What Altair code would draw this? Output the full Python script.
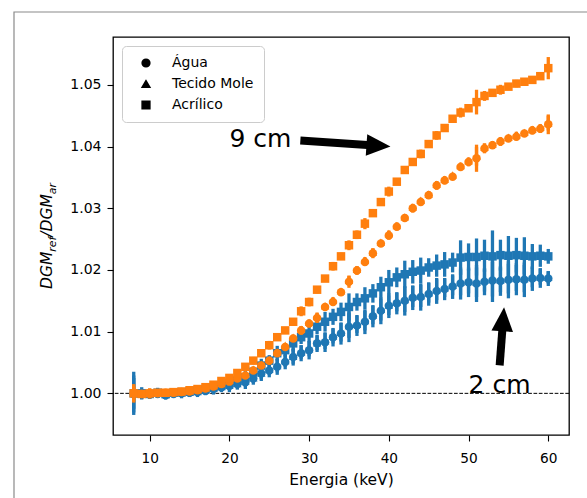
import altair as alt
import pandas as pd

# ---------------- data ----------------
energia = [8, 9, 10, 11, 12, 13, 14, 15, 16, 17, 18, 19, 20, 21, 22, 23, 24, 25, 26, 27,
           28, 29, 30, 31, 32, 33, 34, 35, 36, 37, 38, 39, 40, 41, 42, 43, 44, 45, 46, 47,
           48, 49, 50, 51, 52, 53, 54, 55, 56, 57, 58, 59, 60]

materiais = ["Água", "Tecido Mole", "Acrílico"]
profundidades = ["2 cm", "9 cm"]

# 9 cm
acr_9 = [1.0000, 0.9999, 1.0000, 1.0001, 1.0001, 1.0002, 1.0003, 1.0005, 1.0007, 1.0010,
         1.0014, 1.0020, 1.0025, 1.0033, 1.0043, 1.0053, 1.0065, 1.0078, 1.0091, 1.0102,
         1.0116, 1.0133, 1.0148, 1.0168, 1.0186, 1.0206, 1.0222, 1.0240, 1.0257, 1.0275,
         1.0292, 1.0310, 1.0327, 1.0343, 1.0362, 1.0375, 1.0388, 1.0404, 1.0418, 1.0430,
         1.0445, 1.0455, 1.0462, 1.0472, 1.0482, 1.0487, 1.0492, 1.0497, 1.0502, 1.0505,
         1.0508, 1.0514, 1.0527]
agua_9 = [1.0000, 0.9999, 1.0000, 1.0000, 1.0001, 1.0001, 1.0002, 1.0003, 1.0005, 1.0008,
          1.0011, 1.0015, 1.0019, 1.0024, 1.0029, 1.0037, 1.0045, 1.0053, 1.0065, 1.0075,
          1.0089, 1.0102, 1.0113, 1.0122, 1.0140, 1.0148, 1.0164, 1.0181, 1.0199, 1.0213,
          1.0227, 1.0243, 1.0256, 1.0270, 1.0284, 1.0300, 1.0310, 1.0321, 1.0337, 1.0345,
          1.0351, 1.0367, 1.0375, 1.0381, 1.0397, 1.0402, 1.0408, 1.0413, 1.0416, 1.0421,
          1.0426, 1.0429, 1.0436]
tec_9 = [1.0000, 1.0000, 1.0000, 1.0001, 1.0001, 1.0002, 1.0003, 1.0004, 1.0006, 1.0009,
         1.0012, 1.0016, 1.0021, 1.0026, 1.0031, 1.0039, 1.0047, 1.0055, 1.0067, 1.0078,
         1.0091, 1.0104, 1.0115, 1.0125, 1.0142, 1.0151, 1.0166, 1.0183, 1.0201, 1.0216,
         1.0229, 1.0245, 1.0259, 1.0272, 1.0286, 1.0302, 1.0313, 1.0323, 1.0339, 1.0347,
         1.0354, 1.0369, 1.0377, 1.0384, 1.0399, 1.0404, 1.0410, 1.0415, 1.0419, 1.0423,
         1.0428, 1.0431, 1.0438]
# 2 cm
acr_2 = [1.0000, 1.0000, 0.9999, 1.0001, 0.9999, 1.0001, 1.0002, 1.0003, 1.0005, 1.0007,
         1.0010, 1.0013, 1.0017, 1.0021, 1.0026, 1.0035, 1.0045, 1.0053, 1.0065, 1.0070,
         1.0081, 1.0091, 1.0097, 1.0108, 1.0116, 1.0124, 1.0132, 1.0140, 1.0148, 1.0154,
         1.0162, 1.0172, 1.0180, 1.0188, 1.0193, 1.0197, 1.0199, 1.0204, 1.0207, 1.0209,
         1.0212, 1.0220, 1.0221, 1.0221, 1.0223, 1.0222, 1.0224, 1.0223, 1.0224, 1.0223,
         1.0222, 1.0223, 1.0222]
agua_2 = [0.9999, 0.9999, 0.9998, 0.9999, 0.9997, 0.9999, 1.0000, 1.0001, 1.0002, 1.0004,
          1.0007, 1.0010, 1.0012, 1.0015, 1.0018, 1.0024, 1.0032, 1.0037, 1.0043, 1.0051,
          1.0059, 1.0065, 1.0070, 1.0081, 1.0083, 1.0091, 1.0097, 1.0108, 1.0110, 1.0116,
          1.0125, 1.0134, 1.0142, 1.0146, 1.0150, 1.0155, 1.0156, 1.0161, 1.0166, 1.0169,
          1.0173, 1.0178, 1.0180, 1.0178, 1.0181, 1.0183, 1.0182, 1.0184, 1.0185, 1.0184,
          1.0186, 1.0187, 1.0186]
tec_2 = [1.0000, 0.9999, 0.9999, 1.0000, 0.9998, 1.0000, 1.0001, 1.0002, 1.0003, 1.0005,
         1.0008, 1.0011, 1.0013, 1.0016, 1.0020, 1.0025, 1.0033, 1.0039, 1.0045, 1.0053,
         1.0060, 1.0067, 1.0072, 1.0082, 1.0085, 1.0093, 1.0099, 1.0110, 1.0112, 1.0118,
         1.0127, 1.0136, 1.0143, 1.0148, 1.0152, 1.0157, 1.0158, 1.0163, 1.0168, 1.0171,
         1.0175, 1.0180, 1.0182, 1.0180, 1.0183, 1.0185, 1.0184, 1.0186, 1.0187, 1.0186,
         1.0188, 1.0189, 1.0188]

# half-lengths of error bars
err_acr_9 = [0.0015, 0.0004, 0.0008, 0.0004, 0.0003, 0.0004, 0.0003, 0.0004, 0.0003, 0.0004,
             0.0004, 0.0005, 0.0004, 0.0006, 0.0005, 0.0006, 0.0005, 0.0007, 0.0006, 0.0005,
             0.0004, 0.0008, 0.0007, 0.0006, 0.0004, 0.0007, 0.0006, 0.0008, 0.0007, 0.0009,
             0.0006, 0.0005, 0.0008, 0.0004, 0.0006, 0.0004, 0.0007, 0.0006, 0.0007, 0.0006,
             0.0003, 0.0008, 0.0004, 0.0020, 0.0008, 0.0006, 0.0008, 0.0005, 0.0006, 0.0004,
             0.0005, 0.0006, 0.0018]
err_agua_9 = [0.0012, 0.0004, 0.0008, 0.0003, 0.0004, 0.0003, 0.0004, 0.0003, 0.0004, 0.0003,
              0.0004, 0.0005, 0.0004, 0.0005, 0.0004, 0.0005, 0.0004, 0.0005, 0.0006, 0.0004,
              0.0005, 0.0007, 0.0006, 0.0008, 0.0004, 0.0006, 0.0005, 0.0010, 0.0007, 0.0006,
              0.0008, 0.0004, 0.0007, 0.0006, 0.0005, 0.0007, 0.0005, 0.0006, 0.0007, 0.0006,
              0.0004, 0.0006, 0.0007, 0.0022, 0.0008, 0.0006, 0.0007, 0.0005, 0.0006, 0.0005,
              0.0006, 0.0007, 0.0016]
err_tec_9 = [0.0010, 0.0003, 0.0006, 0.0003, 0.0003, 0.0003, 0.0003, 0.0003, 0.0003, 0.0003,
             0.0003, 0.0004, 0.0003, 0.0004, 0.0003, 0.0004, 0.0003, 0.0004, 0.0005, 0.0003,
             0.0004, 0.0005, 0.0005, 0.0006, 0.0003, 0.0005, 0.0004, 0.0007, 0.0005, 0.0005,
             0.0006, 0.0003, 0.0005, 0.0005, 0.0004, 0.0005, 0.0004, 0.0005, 0.0005, 0.0005,
             0.0003, 0.0005, 0.0005, 0.0015, 0.0006, 0.0005, 0.0005, 0.0004, 0.0005, 0.0004,
             0.0005, 0.0005, 0.0012]
err_acr_2 = [0.0035, 0.0010, 0.0006, 0.0008, 0.0005, 0.0007, 0.0006, 0.0008, 0.0006, 0.0009,
             0.0007, 0.0008, 0.0009, 0.0007, 0.0010, 0.0008, 0.0011, 0.0009, 0.0012, 0.0010,
             0.0013, 0.0011, 0.0014, 0.0012, 0.0016, 0.0013, 0.0015, 0.0022, 0.0014, 0.0018,
             0.0015, 0.0017, 0.0020, 0.0016, 0.0022, 0.0019, 0.0021, 0.0015, 0.0018, 0.0020,
             0.0016, 0.0028, 0.0022, 0.0030, 0.0026, 0.0042, 0.0025, 0.0032, 0.0028, 0.0030,
             0.0020, 0.0018, 0.0012]
err_agua_2 = [0.0030, 0.0008, 0.0007, 0.0006, 0.0007, 0.0006, 0.0008, 0.0007, 0.0008, 0.0007,
              0.0009, 0.0008, 0.0010, 0.0009, 0.0011, 0.0010, 0.0012, 0.0011, 0.0013, 0.0012,
              0.0014, 0.0013, 0.0015, 0.0014, 0.0016, 0.0015, 0.0018, 0.0025, 0.0017, 0.0020,
              0.0018, 0.0022, 0.0020, 0.0018, 0.0024, 0.0020, 0.0022, 0.0019, 0.0021, 0.0018,
              0.0020, 0.0026, 0.0024, 0.0030, 0.0022, 0.0035, 0.0024, 0.0030, 0.0026, 0.0028,
              0.0020, 0.0016, 0.0012]
err_tec_2 = [0.0025, 0.0007, 0.0006, 0.0005, 0.0006, 0.0005, 0.0007, 0.0006, 0.0007, 0.0006,
             0.0008, 0.0007, 0.0008, 0.0008, 0.0009, 0.0008, 0.0010, 0.0009, 0.0011, 0.0010,
             0.0012, 0.0011, 0.0012, 0.0012, 0.0013, 0.0012, 0.0015, 0.0020, 0.0014, 0.0016,
             0.0015, 0.0018, 0.0016, 0.0015, 0.0020, 0.0017, 0.0018, 0.0016, 0.0017, 0.0015,
             0.0016, 0.0021, 0.0020, 0.0024, 0.0018, 0.0028, 0.0020, 0.0024, 0.0021, 0.0022,
             0.0016, 0.0013, 0.0010]

# annotations (data coordinates)
rot_texto = ["9 cm", "2 cm"]
rot_x = [20.0, 50.0]
rot_y = [1.0400, 1.0000]
seta_ini_x = [28.9, 53.9]
seta_ini_y = [1.04097, 1.00454]
seta_cab_x = [38.7, 54.34]
seta_cab_y = [1.04013, 1.0120]
seta_ang = [3.9, 274.4]

y_ticks = [1.00, 1.01, 1.02, 1.03, 1.04, 1.05]
x_ticks = [10, 20, 30, 40, 50, 60]

AZUL = "#1f77b4"
LARANJA = "#ff7f0e"
FONTE = "DejaVu Sans"

series = [
    ("2 cm", "Água", agua_2, err_agua_2),
    ("2 cm", "Tecido Mole", tec_2, err_tec_2),
    ("2 cm", "Acrílico", acr_2, err_acr_2),
    ("9 cm", "Água", agua_9, err_agua_9),
    ("9 cm", "Tecido Mole", tec_9, err_tec_9),
    ("9 cm", "Acrílico", acr_9, err_acr_9),
]
rows = []
for prof, mat, vals, errs in series:
    for e, v, s in zip(energia, vals, errs):
        rows.append({"energia": e, "valor": v, "lo": v - s, "hi": v + s,
                     "prof": prof, "material": mat})
df = pd.DataFrame(rows)

xscale = alt.Scale(domain=[5.4, 62.6], nice=False, zero=False)
yscale = alt.Scale(domain=[0.99325, 1.05775], nice=False, zero=False)
xaxis = alt.Axis(values=x_ticks, title="Energia (keV)")
yaxis = alt.Axis(values=y_ticks, format=".2f", title=None)

X = alt.X("energia:Q", scale=xscale, axis=xaxis)
Y = alt.Y("valor:Q", scale=yscale, axis=yaxis)

shape_scale = alt.Scale(domain=materiais, range=["circle", "triangle-up", "square"])
color_scale = alt.Scale(domain=profundidades, range=[AZUL, LARANJA])

base = alt.Chart(df)
layers = []

# outer figure frame (decoration)
layers.append(
    alt.Chart(pd.DataFrame({"a": [0]})).mark_rect(fill=None, stroke="#8a8a8a", strokeWidth=1.2)
    .encode(x=alt.value(-99), x2=alt.value(700), y=alt.value(-25), y2=alt.value(700))
)

# reference line at 1.0
layers.append(
    alt.Chart(pd.DataFrame({"valor": [1.0]})).mark_rule(color="black", strokeWidth=1, strokeDash=[3.7, 1.6])
    .encode(y=Y)
)

for i, prof in enumerate(profundidades):
    sub = base.transform_filter(alt.datum.prof == prof)
    layers.append(
        sub.mark_rule(strokeWidth=3.3).encode(
            x=X, y=alt.Y("lo:Q", scale=yscale, axis=yaxis), y2="hi:Q",
            color=alt.Color("prof:N", scale=color_scale, legend=None))
    )
    leg = alt.Legend(title=None, orient="top-left", offset=9, padding=10,
                     fillColor="white", strokeColor="#cccccc", cornerRadius=4,
                     symbolFillColor="black", symbolStrokeColor="black",
                     symbolSize=60, symbolOffset=7, labelOffset=19,
                     labelFont=FONTE, labelFontSize=14, labelColor="black",
                     rowPadding=7) if i == 0 else None
    layers.append(
        sub.mark_point(filled=True, size=72, opacity=1).encode(
            x=X, y=Y,
            color=alt.Color("prof:N", scale=color_scale, legend=None),
            shape=alt.Shape("material:N", scale=shape_scale, legend=leg))
    )

# annotation texts
ann = pd.DataFrame({"t": rot_texto, "x": rot_x, "y": rot_y})
layers.append(
    alt.Chart(ann).mark_text(align="left", baseline="alphabetic", font=FONTE, fontSize=25, color="black")
    .encode(x=alt.X("x:Q", scale=xscale), y=alt.Y("y:Q", scale=yscale), text="t:N")
)
# arrows
arr = pd.DataFrame({"x0": seta_ini_x, "y0": seta_ini_y, "x1": seta_cab_x, "y1": seta_cab_y, "ang": seta_ang})
layers.append(
    alt.Chart(arr).mark_rule(color="black", strokeWidth=8)
    .encode(x=alt.X("x0:Q", scale=xscale), y=alt.Y("y0:Q", scale=yscale), x2="x1:Q", y2="y1:Q")
)
layers.append(
    alt.Chart(arr).mark_point(shape="M1,0L-1,-0.9L-1,0.9Z", filled=True, color="black", size=576, opacity=1)
    .encode(x=alt.X("x1:Q", scale=xscale), y=alt.Y("y1:Q", scale=yscale), angle=alt.Angle("ang:Q", scale=None))
)

# y-axis title with subscripts: DGM_ref / DGM_ar
W = {"D": 0.770, "G": 0.775, "M": 0.863, "r": 0.411, "e": 0.615, "f": 0.352, "/": 0.337, "a": 0.613}
F = 15.5
S = F * 0.7
segs = [("DGM", F, 0.0), ("ref", S, 3.5), ("/DGM", F, 0.0), ("ar", S, 3.5)]
lens = [sum(W[c] for c in t) * fs for t, fs, _ in segs]
total = sum(lens)
yc = 199.0
y0 = yc + total / 2
tx, ty, tf, tt = [], [], [], []
cum = 0.0
for (t, fs, dx), L in zip(segs, lens):
    tt.append(t)
    tf.append(fs)
    tx.append(-61.0 + dx)
    ty.append(y0 - cum)
    cum += L
ytitle = pd.DataFrame({"t": tt, "px": tx, "py": ty, "fs": tf})
layers.append(
    alt.Chart(ytitle).mark_text(align="left", baseline="alphabetic", angle=270, font=FONTE,
                                fontStyle="italic", color="black")
    .encode(x=alt.X("px:Q", scale=None, axis=None), y=alt.Y("py:Q", scale=None, axis=None),
            text="t:N", size=alt.Size("fs:Q", scale=None, legend=None))
)

chart = alt.layer(*layers).properties(
    width=456, height=398,
    autosize=alt.AutoSizeParams(type="none"),
    padding={"left": 113, "top": 37, "right": 18, "bottom": 63},
    background="white",
).configure_view(
    stroke="black", strokeWidth=1.3
).configure_axis(
    labelFont=FONTE, labelFontSize=13.7, labelColor="black",
    titleFont=FONTE, titleFontSize=15.5, titleFontWeight="normal", titleColor="black",
    tickColor="black", tickSize=6, tickWidth=1.1, domain=False, grid=False,
    labelPadding=5,
).configure_axisX(labelPadding=10, titlePadding=8
).configure_axisY(labelPadding=6, labelFontSize=14)

chart.save("out.html", embed_options={"renderer": "svg", "actions": False})
